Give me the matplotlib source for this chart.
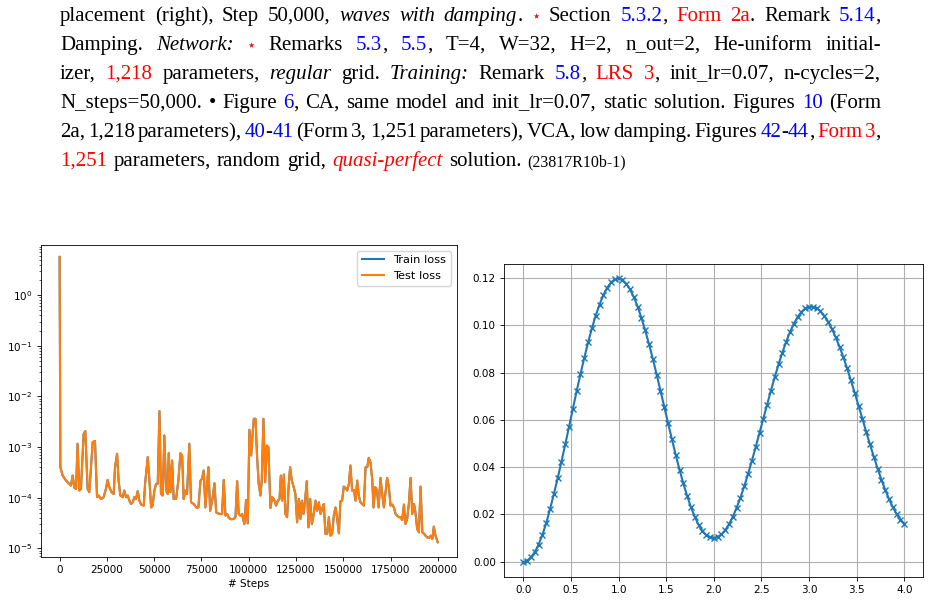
import re
import matplotlib
matplotlib.use("Agg")
import matplotlib.pyplot as plt

# ---- caption text above the plots (markup: {code:text}) ----
caption_lines = [
    "placement (right), Step 50,000, {i:waves with damping}. {star:\u22c6} Section {b:5.3.2}, {r:Form 2a}. Remark {b:5.14},",
    "Damping. {i:Network:} {star:\u22c6} Remarks {b:5.3}, {b:5.5}, T=4, W=32, H=2, n_out=2, He-uniform initial-",
    "izer, {r:1,218} parameters, {i:regular} grid. {i:Training:} Remark {b:5.8}, {r:LRS 3}, init_lr=0.07, n-cycles=2,",
    "N_steps=50,000. \u2022 Figure {b:6}, CA, same model and init_lr=0.07, static solution. Figures {b:10} (Form",
    "2a, 1,218 parameters), {b:40}-{b:41} (Form 3, 1,251 parameters), VCA, low damping. Figures {b:42}-{b:44}, {r:Form 3},",
    "{r:1,251} parameters, random grid, {ri:quasi-perfect} solution. {s:(23817R10b-1)}",
]

# ---- left plot: loss history ----
steps = [0, 400, 1600, 3400, 5100, 6000, 6900, 7800, 8700, 9500,
         10400, 11300, 12700, 13600, 14800, 15700, 17500, 18700, 19800, 20700,
         21900, 23300, 24500, 25400, 26300, 27500, 28600, 29300, 30400, 31200,
         32100, 33400, 34200, 35100, 36000, 36900, 37800, 38700, 39500, 40400,
         41300, 42200, 43100, 44500, 45200, 46600, 47500, 48400, 49200, 50100,
         51000, 51900, 52800, 53600, 54500, 55400, 56300, 57200, 57700, 58600,
         59500, 60300, 61600, 62800, 63900, 64800, 65600, 66500, 67400, 68600,
         69500, 70900, 72200, 73400, 74500, 75300, 76200, 77100, 78000, 78700,
         79600, 80600, 81900, 82800, 83600, 84900, 85900, 86800, 87700, 88600,
         89500, 90700, 92100, 93000, 93900, 94700, 95600, 96500, 97700, 98600,
         99500, 100400, 101300, 102200, 102700, 103600, 104400, 105300, 106200, 106900,
         107800, 108700, 109600, 110400, 111500, 112400, 113300, 114500, 115400, 116300,
         117000, 117700, 118600, 119400, 120300, 121200, 121900, 122800, 123900, 124700,
         125600, 126500, 127400, 128100, 129000, 129800, 130700, 131600, 132500, 133400,
         134400, 135300, 136200, 137100, 138000, 138800, 139700, 140600, 141500, 142400,
         143300, 144100, 145000, 145900, 146800, 147700, 148500, 149400, 150300, 151200,
         152100, 153000, 153800, 154700, 155600, 156500, 157400, 158200, 159100, 160000,
         160900, 161800, 162700, 163500, 164400, 165300, 166000, 166900, 167800, 168700,
         169700, 170600, 171500, 172400, 173200, 174100, 175000, 175900, 176800, 177700,
         178500, 179400, 180300, 181200, 182100, 182900, 183800, 184700, 185600, 186500,
         187400, 188200, 189100, 190000, 190900, 191800, 192600, 193500, 194400, 195300,
         196200, 197100, 197900, 198800, 200000]

test_loss = [5.7, 4.0e-4, 2.73e-4, 2.17e-4, 1.87e-4, 1.73e-4, 2.73e-4, 1.56e-4, 1.49e-4, 1.16e-3,
             1.38e-4, 1.49e-4, 1.82e-3, 2.06e-3, 1.49e-4, 1.28e-4, 1.25e-3, 1.31e-3, 1.02e-4, 1.10e-4,
             9.4e-5, 1.02e-4, 1.49e-4, 2.24e-4, 1.60e-4, 1.28e-4, 1.18e-4, 3.99e-4, 7.33e-4, 2.17e-4,
             1.10e-4, 1.02e-4, 1.38e-4, 1.02e-4, 1.10e-4, 8.7e-5, 7.5e-5, 8.1e-5, 1.02e-4, 9.4e-5,
             1.34e-4, 8.7e-5, 7.3e-5, 6.95e-5, 1.87e-4, 6.3e-4, 2.17e-4, 6.4e-5, 6.95e-5, 1.38e-4,
             1.87e-4, 1.87e-4, 5.13e-3, 1.18e-4, 1.10e-4, 1.69e-3, 1.38e-4, 1.18e-4, 7.55e-4, 1.28e-4,
             5.41e-4, 9.4e-5, 9.4e-5, 2.17e-4, 7.55e-4, 6.79e-4, 9.4e-5, 1.38e-4, 1.18e-4, 1.16e-3,
             8.1e-5, 7.5e-5, 6.4e-5, 6.4e-5, 2.17e-4, 2.34e-4, 3.43e-4, 6.4e-5, 1.87e-4, 3.99e-4,
             5.5e-5, 8.1e-5, 1.92e-4, 5.1e-5, 4.9e-5, 4.75e-5, 4.75e-5, 2.24e-4, 4.4e-5, 4.75e-5,
             3.96e-5, 3.73e-5, 3.8e-5, 4.1e-5, 2.11e-4, 4.75e-5, 4.4e-5, 4.75e-5, 3.0e-5, 9.0e-5,
             3.1e-5, 2.19e-3, 6.79e-4, 2.12e-3, 3.61e-3, 3.61e-3, 6.79e-4, 1.87e-4, 1.10e-4, 2.17e-4,
             3.61e-3, 2.01e-4, 1.07e-3, 9.9e-4, 6.25e-5, 1.02e-4, 9.4e-5, 6.95e-5, 8.7e-5, 9.4e-5,
             2.73e-4, 8.7e-5, 2.86e-4, 4.75e-5, 4.1e-5, 1.87e-4, 3.99e-4, 2.17e-4, 1.56e-4, 1.18e-4,
             3.25e-5, 9.4e-5, 3.8e-5, 8.7e-5, 4.75e-5, 8.7e-5, 2.11e-4, 2.59e-5, 9.4e-5, 3.0e-5,
             4.75e-5, 8.7e-5, 5.5e-5, 8.1e-5, 4.75e-5, 5.97e-5, 7.5e-5, 1.91e-5, 1.91e-5, 4.1e-5,
             1.77e-5, 1.91e-5, 4.4e-5, 6.4e-5, 3.8e-5, 1.97e-5, 8.5e-5, 8.7e-5, 1.65e-4, 1.56e-4,
             1.38e-4, 1.87e-4, 4.31e-4, 1.38e-4, 1.42e-4, 8.7e-5, 2.17e-4, 1.10e-4, 8.1e-5, 7.5e-5,
             6.95e-5, 3.99e-4, 3.99e-4, 6.11e-4, 5.01e-4, 2.34e-4, 6.4e-5, 1.60e-4, 1.42e-4, 6.4e-5,
             2.45e-4, 1.18e-4, 6.4e-5, 1.28e-4, 2.45e-4, 1.65e-4, 6.95e-5, 7.3e-5, 6.4e-5, 4.75e-5,
             4.4e-5, 4.1e-5, 4.1e-5, 3.6e-5, 7.3e-5, 3.0e-5, 3.8e-5, 7.5e-5, 2.45e-4, 4.75e-5,
             7.5e-5, 5.1e-5, 2.4e-5, 2.06e-5, 1.65e-4, 2.06e-5, 1.97e-5, 1.77e-5, 1.64e-5, 1.59e-5,
             1.77e-5, 1.52e-5, 2.67e-5, 1.77e-5, 1.31e-5]

# train loss is hidden under the test loss in the picture
train_loss = list(test_loss)

# ---- right plot: displacement ----
x_pos = [0.00, 0.04, 0.08, 0.12, 0.16, 0.20, 0.24, 0.28, 0.32, 0.36,
         0.40, 0.44, 0.48, 0.52, 0.56, 0.60, 0.64, 0.68, 0.72, 0.76,
         0.80, 0.84, 0.88, 0.92, 0.96, 1.00, 1.04, 1.08, 1.12, 1.16,
         1.20, 1.24, 1.28, 1.32, 1.36, 1.40, 1.44, 1.48, 1.52, 1.56,
         1.60, 1.64, 1.68, 1.72, 1.76, 1.80, 1.84, 1.88, 1.92, 1.96,
         2.00, 2.04, 2.08, 2.12, 2.16, 2.20, 2.24, 2.28, 2.32, 2.36,
         2.40, 2.44, 2.48, 2.52, 2.56, 2.60, 2.64, 2.68, 2.72, 2.76,
         2.80, 2.84, 2.88, 2.92, 2.96, 3.00, 3.04, 3.08, 3.12, 3.16,
         3.20, 3.24, 3.28, 3.32, 3.36, 3.40, 3.44, 3.48, 3.52, 3.56,
         3.60, 3.64, 3.68, 3.72, 3.76, 3.80, 3.84, 3.88, 3.92, 3.96,
         4.00]

disp = [-0.0004, 0.0004, 0.0018, 0.0040, 0.0072, 0.0113, 0.0162, 0.0222, 0.0285, 0.0352,
        0.0423, 0.0496, 0.0571, 0.0647, 0.0722, 0.0794, 0.0863, 0.0928, 0.0988, 0.1042,
        0.1088, 0.1129, 0.1159, 0.1182, 0.1195, 0.1200, 0.1193, 0.1177, 0.1153, 0.1120,
        0.1080, 0.1032, 0.0979, 0.0920, 0.0858, 0.0792, 0.0724, 0.0655, 0.0586, 0.0518,
        0.0452, 0.0389, 0.0331, 0.0278, 0.0230, 0.0190, 0.0156, 0.0130, 0.0112, 0.0102,
        0.0100, 0.0104, 0.0115, 0.0133, 0.0158, 0.0190, 0.0228, 0.0271, 0.0319, 0.0372,
        0.0427, 0.0485, 0.0545, 0.0605, 0.0665, 0.0724, 0.0781, 0.0835, 0.0885, 0.0931,
        0.0972, 0.1007, 0.1035, 0.1057, 0.1072, 0.1079, 0.1079, 0.1073, 0.1060, 0.1041,
        0.1016, 0.0986, 0.0950, 0.0910, 0.0866, 0.0818, 0.0767, 0.0714, 0.0660, 0.0605,
        0.0550, 0.0496, 0.0444, 0.0394, 0.0347, 0.0304, 0.0265, 0.0230, 0.0201, 0.0178,
        0.0160]

plt.rcParams['font.size'] = 7.5
plt.rcParams['axes.linewidth'] = 0.6
plt.rcParams['xtick.major.size'] = 2.6
plt.rcParams['ytick.major.size'] = 2.6
plt.rcParams['xtick.minor.size'] = 1.5
plt.rcParams['ytick.minor.size'] = 1.5
plt.rcParams['xtick.major.width'] = 0.6
plt.rcParams['ytick.major.width'] = 0.6
plt.rcParams['ytick.minor.width'] = 0.45

fig = plt.figure(figsize=(9.31, 6.01), dpi=100)
W, H = 931.0, 601.0

# caption, justified like the page it was cut from
CAP_FS = 15.0
serif = ['Liberation Serif', 'DejaVu Serif']
styles = {
    '': dict(color='black'),
    'i': dict(color='black', style='italic'),
    'b': dict(color='blue'),
    'r': dict(color='red'),
    'ri': dict(color='red', style='italic'),
    'star': dict(color='red', family=['DejaVu Sans'], fontsize=10.5),
    's': dict(color='black', fontsize=11.5),
}


def words_of(line):
    words = [[]]
    for part in re.split(r'(\{\w+:[^}]*\})', line):
        m = re.fullmatch(r'\{(\w+):([^}]*)\}', part)
        code, text = (m.group(1), m.group(2)) if m else ('', part)
        for j, chunk in enumerate(text.split(' ')):
            if j > 0:
                words.append([])
            if chunk:
                words[-1].append((chunk, code))
    return [w for w in words if w]


renderer = fig.canvas.get_renderer()
left_px, right_px = 60, 881
baselines = [21, 50, 79, 108, 137, 166]
space_px = 0.25 * CAP_FS * 100 / 72

for li, line in enumerate(caption_lines):
    words = words_of(line)
    placed = []
    widths = []
    for w in words:
        arts = []
        wsum = 0
        for chunk, code in w:
            kw = dict(family=serif, fontsize=CAP_FS)
            kw.update(styles[code])
            t = fig.text(0.5, 0.5, chunk, va='baseline', ha='left', **kw)
            cw = t.get_window_extent(renderer).width
            arts.append((t, cw))
            wsum += cw
        placed.append(arts)
        widths.append(wsum)
    if li < len(caption_lines) - 1 and len(words) > 1:
        gap = (right_px - left_px - sum(widths)) / (len(words) - 1)
    else:
        gap = space_px * 1.2
    x = left_px
    for arts, wsum in zip(placed, widths):
        cx = x
        for t, cw in arts:
            t.set_position((cx / W, 1 - baselines[li] / H))
            cx += cw
        x += wsum + gap

# left axes
ax1 = fig.add_axes([40.7 / W, 1 - 556.7 / H, 416 / W, 311.7 / H])
ax1.plot(steps, train_loss, color='#1f77b4', lw=1.5, label='Train loss')
ax1.plot(steps, test_loss, color='#ff7f0e', lw=1.5, label='Test loss')
ax1.set_yscale('log')
ax1.set_ylim(6.8e-6, 9.8)
ax1.set_xlabel('# Steps', labelpad=3)
ax1.legend(loc='upper right', fontsize=8.2)

# right axes
ax2 = fig.add_axes([504.3 / W, 1 - 576.7 / H, 419 / W, 312.7 / H])
ax2.plot(x_pos, disp, color='#1f77b4', lw=1.5, marker='x', ms=4.5, mew=1.0)
ax2.grid(True, color='#b0b0b0', lw=0.8)

fig.savefig('out.png', dpi=100)
